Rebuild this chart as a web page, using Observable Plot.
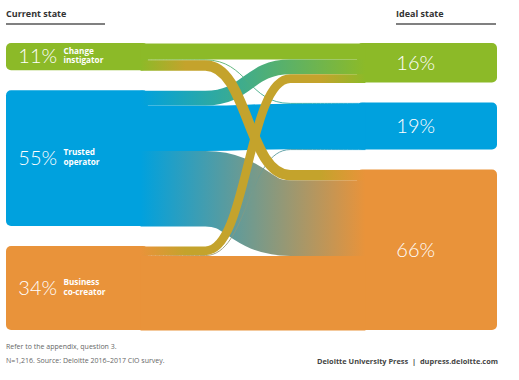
<!DOCTYPE html>
<html>
<head>
<meta charset="utf-8">
<script src="https://cdn.jsdelivr.net/npm/d3@7"></script>
<script src="https://cdn.jsdelivr.net/npm/@observablehq/plot@0.6"></script>
<style>
  html, body { margin: 0; padding: 0; background: #fff; }
  #wrap { position: relative; width: 519px; height: 380px; overflow: hidden; font-family: "Open Sans", "DejaVu Sans", sans-serif; }
  .hdr { position: absolute; top: 7px; font-size: 9px; font-weight: 700; color: #333; padding-bottom: 3px; border-bottom: 2px solid #808080; }
  #chart { position: absolute; left: 0; top: 36px; }
  .foot { position: absolute; font-size: 7px; color: #666; white-space: nowrap; }
  .foot.right { font-weight: 700; color: #444; font-size: 7.4px; right: 21px; }
</style>
</head>
<body>
<div id="wrap">
  <div class="hdr" style="left:6px;width:99px;">Current state</div>
  <div class="hdr" style="left:396px;width:100px;">Ideal state</div>
  <div id="chart"></div>
  <div class="foot" style="left:6px;top:342px;">Refer to the appendix, question 3.</div>
  <div class="foot" style="left:6px;top:356px;">N=1,216. Source: Deloitte 2016–2017 CIO survey.</div>
  <div class="foot right" style="top:356px;">Deloitte University Press&nbsp;&nbsp;|&nbsp;&nbsp;dupress.deloitte.com</div>
</div>
<script>
// ---- data ----
const categories = ["Change instigator", "Trusted operator", "Business co-creator"];
const nodeLabels = ["Change\ninstigator", "Trusted\noperator", "Business\nco-creator"];
const currentPct = [11, 55, 34];
const idealPct = [16, 19, 66];
// flows (share of respondents, %): rows = current state, columns = ideal state
const flowChange   = [6.5, 0.3, 4.2];
const flowTrusted  = [6.0, 18.4, 30.6];
const flowBusiness = [3.5, 0.3, 30.2];
const flows = [flowChange, flowTrusted, flowBusiness];

// ---- styles / layout ----
const colors = ["#8cba28", "#00a1de", "#e9933a"];
const gold = "#c4a32c";
const W = 519, H = 304, mTop = 7, mBottom = 10, mLeft = 6, mRight = 22;
const GAP = 8.1;
const XL = 28.9, X0 = 27.3, XA = 40.5, XB = 57.8, X1 = 73.1, XR = 71.5;
const pctFont = "Lato, 'Open Sans', 'DejaVu Sans', sans-serif";
const lblFont = "'Open Sans', 'DejaVu Sans', sans-serif";

// node positions
const outTot = flows.map(r => d3.sum(r));
const inTot = categories.map((_, j) => d3.sum(flows, r => r[j]));
function stack(tot) { let y = 0; return tot.map(v => { const o = {top: y, bot: y + v}; y += v + GAP; return o; }); }
const leftPos = stack(outTot), rightPos = stack(inTot);
const yMax = Math.max(leftPos[2].bot, rightPos[2].bot);

const leftNodes = categories.map((c, i) => ({c, label: nodeLabels[i], pct: currentPct[i], color: colors[i], ...leftPos[i]}));
const rightNodes = categories.map((c, i) => ({c, pct: idealPct[i], color: colors[i], ...rightPos[i]}));

// links
const links = [];
const outOff = [0, 0, 0], inOff = [0, 0, 0];
for (let i = 0; i < 3; i++) for (let j = 0; j < 3; j++) {
  const v = flows[i][j];
  const ys = leftPos[i].top + outOff[i] + v / 2;
  outOff[i] += v;
  links.push({i, j, v, ys});
}
for (let j = 0; j < 3; j++) for (let i = 0; i < 3; i++) {
  const l = links.find(d => d.i === i && d.j === j);
  l.yt = rightPos[j].top + inOff[j] + l.v / 2;
  inOff[j] += l.v;
}

const yScale = Plot.scale({y: {domain: [0, yMax], range: [mTop, H - mBottom]}});
const k = Math.abs(yScale.apply(1) - yScale.apply(0));

const order = [[1,1],[0,0],[2,2],[1,0],[1,2],[0,1],[2,1],[0,2],[2,0]];
const linkMarks = order.map(([i, j]) => {
  const l = links.find(d => d.i === i && d.j === j);
  const pts = [{x: X0, y: l.ys}, {x: XA, y: l.ys}, {x: XB, y: l.yt}, {x: X1, y: l.yt}];
  return Plot.line(pts, {
    x: "x", y: "y", curve: "bump-x",
    stroke: i === j ? colors[i] : `url(#g${i}${j})`,
    strokeWidth: Math.max(0.9, l.v * k),
    strokeLinecap: "butt", strokeLinejoin: "round"
  });
});

const chart = Plot.plot({
  width: W, height: H,
  marginTop: mTop, marginBottom: mBottom, marginLeft: mLeft, marginRight: mRight,
  x: {domain: [0, 100], axis: null},
  y: {domain: [0, yMax], range: [mTop, H - mBottom], axis: null},
  color: {type: "identity"},
  marks: [
    Plot.rect(leftNodes, {x1: 0, x2: XL, y1: "top", y2: "bot", fill: "color", rx: 5}),
    Plot.rect(rightNodes, {x1: XR, x2: 100, y1: "top", y2: "bot", fill: "color", rx: 5}),
    ...linkMarks,
    Plot.text(leftNodes, {x: 2.4, y: d => (d.top + d.bot) / 2, text: d => d.pct + "%", textAnchor: "start", fill: "white", fontSize: 20, fontWeight: 300, fontFamily: pctFont}),
    Plot.text(leftNodes, {x: 11.6, y: d => (d.top + d.bot) / 2 - 0.7, text: "label", textAnchor: "start", fill: "white", fontSize: 8.2, fontWeight: 700, lineHeight: 1.2, fontFamily: lblFont}),
    Plot.text(rightNodes, {x: 79.4, y: d => (d.top + d.bot) / 2, text: d => d.pct + "%", textAnchor: "start", fill: "white", fontSize: 20, fontWeight: 300, fontFamily: pctFont})
  ]
});

// gradient definitions
const NS = "http://www.w3.org/2000/svg";
const defs = document.createElementNS(NS, "defs");
for (const l of links) {
  if (l.i === l.j) continue;
  const g = document.createElementNS(NS, "linearGradient");
  g.setAttribute("id", `g${l.i}${l.j}`);
  g.setAttribute("x1", "0"); g.setAttribute("x2", "1"); g.setAttribute("y1", "0"); g.setAttribute("y2", "0");
  const isGold = (l.i === 0 && l.j === 2) || (l.i === 2 && l.j === 0);
  const stops = isGold
    ? [[0, colors[l.i]], [0.2, gold], [0.8, gold], [1, colors[l.j]]]
    : [[0, colors[l.i]], [1, colors[l.j]]];
  for (const [o, c] of stops) {
    const s = document.createElementNS(NS, "stop");
    s.setAttribute("offset", o); s.setAttribute("stop-color", c);
    g.appendChild(s);
  }
  defs.appendChild(g);
}
chart.insertBefore(defs, chart.firstChild);
document.getElementById("chart").appendChild(chart);
</script>
</body>
</html>
